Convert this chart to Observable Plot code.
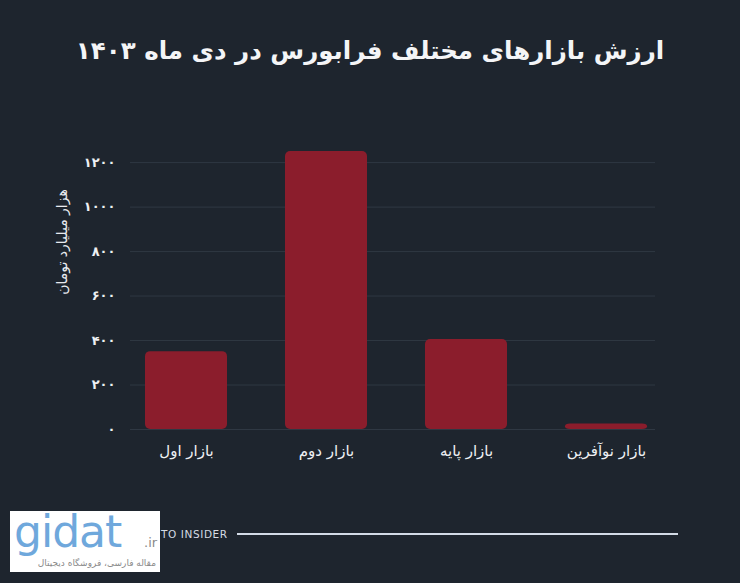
<!DOCTYPE html>
<html lang="fa">
<head>
<meta charset="utf-8">
<script src="https://cdn.jsdelivr.net/npm/d3@7"></script>
<script src="https://cdn.jsdelivr.net/npm/@observablehq/plot@0.6"></script>
<style>
  html, body { margin: 0; padding: 0; background: #1e252e; }
  #wrap { position: relative; width: 740px; height: 583px; overflow: hidden; background: #1e252e;
          font-family: "DejaVu Sans", "Noto Sans", sans-serif; }
  #title { position: absolute; left: 0; width: 740px; top: 36px; text-align: center; direction: rtl;
           color: #f4f5f7; font-size: 24.5px; font-weight: bold; }
  #chart { position: absolute; left: 0; top: 0; }
  #ylabel { position: absolute; left: 62px; top: 242px; transform: translate(-50%, -50%) rotate(-90deg);
            color: #e8eaee; font-size: 14px; white-space: nowrap; direction: rtl; }
  #brand { position: absolute; left: 161px; top: 526px; color: #d5dbe3; font-size: 10.5px; letter-spacing: 0.6px; white-space: nowrap;
           font-family: "DejaVu Sans", sans-serif; line-height: 16px; }
  #brandline { position: absolute; left: 237px; top: 533px; width: 441px; height: 2px; background: #d3dbe6; }
  #wm { position: absolute; left: 10px; top: 511px; width: 150px; height: 61px; background: #ffffff; }
  #wm .g { position: absolute; left: 4px; top: 0px; color: #6fa8dc; font-size: 44px; line-height: 42px; letter-spacing: -1px;
           font-family: "DejaVu Sans", sans-serif; }
  #wm .ir { position: absolute; left: 134px; top: 25px; color: #8a8a8a; font-size: 13px; line-height: 14px;
            font-family: "DejaVu Sans", sans-serif; }
  #wm .fa { position: absolute; right: 4px; top: 46px; color: #8a8a8a; font-size: 9px; line-height: 12px;
            direction: rtl; white-space: nowrap; }
</style>
</head>
<body>
<div id="wrap">
  <div id="chart"></div>
  <div id="title">ارزش بازارهای مختلف فرابورس در دی ماه ۱۴۰۳</div>
  <div id="ylabel">هزار میلیارد تومان</div>
  <div id="brand">TO INSIDER</div>
  <div id="brandline"></div>
  <div id="wm"><span class="g">gidat</span><span class="ir">.ir</span><span class="fa">مقاله فارسی، فروشگاه دیجیتال</span></div>
</div>
<script>
const markets = ["بازار اول", "بازار دوم", "بازار پایه", "بازار نوآفرین"];
const values = [350, 1250, 405, 25];
const yTicks = [0, 200, 400, 600, 800, 1000, 1200];
const yTickLabels = ["۰", "۲۰۰", "۴۰۰", "۶۰۰", "۸۰۰", "۱۰۰۰", "۱۲۰۰"];

const data = markets.map((m, i) => ({market: m, value: values[i]}));

const chart = Plot.plot({
  width: 740,
  height: 583,
  marginTop: 151,
  marginBottom: 154,
  marginLeft: 130,
  marginRight: 85,
  style: {background: "transparent", color: "#e8eaee", fontFamily: "DejaVu Sans, Noto Sans, sans-serif"},
  x: {domain: markets, paddingInner: 0.414, paddingOuter: 0.082, align: 0.65, label: null},
  y: {domain: [0, 1250], label: null},
  marks: [
    Plot.ruleY(yTicks, {stroke: "#2f3843", strokeWidth: 1}),
    Plot.axisY({ticks: yTicks, tickSize: 0, tickPadding: 15, label: null,
      tickFormat: d => yTickLabels[yTicks.indexOf(d)], fontSize: 13, fontWeight: "bold", fill: "#eef0f3"}),
    Plot.axisX({tickSize: 0, tickPadding: 16, label: null, fontSize: 15, fill: "#eef0f3"}),
    Plot.barY(data, {x: "market", y: "value", fill: "#8b1d2c", rx: 5})
  ]
});
document.getElementById("chart").appendChild(chart);
</script>
</body>
</html>
